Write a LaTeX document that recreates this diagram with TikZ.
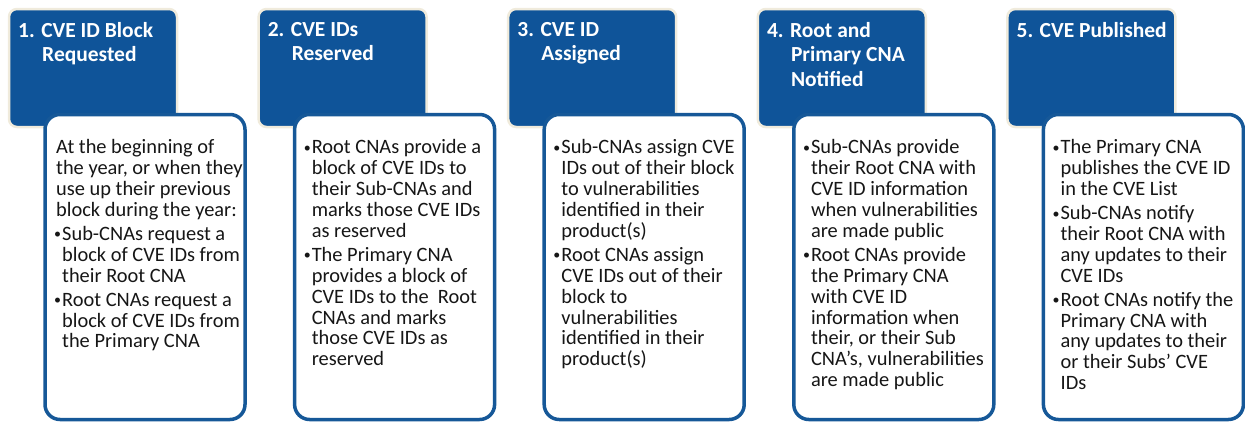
\documentclass[tikz,border=0pt]{standalone}
\usepackage{fontspec}
\setmainfont{Carlito}
\usetikzlibrary{positioning}

\definecolor{cvehead}{RGB}{15,84,153}
\definecolor{cveline}{RGB}{22,88,152}
\definecolor{cvecream}{RGB}{240,235,220}
\definecolor{cvetext}{RGB}{22,22,22}

% bullet and continuation indent
\newcommand{\bul}{\makebox[8pt][l]{\raisebox{1.5pt}{\fontsize{14}{14}\selectfont\textbullet}}}
\newcommand{\ind}{\hspace*{8pt}}
\newcommand{\hng}{\hspace*{24pt}}

\tikzset{
  stephead/.style={draw=cvecream, line width=2.5pt, fill=cvehead, rounded corners=8pt,
    minimum width=168pt, minimum height=118pt, anchor=north west, outer sep=0pt, inner sep=0pt},
  stepbody/.style={draw=cveline, line width=3.5pt, fill=white, rounded corners=15pt,
    minimum width=200pt, minimum height=305pt, anchor=north west, outer sep=0pt, inner sep=0pt},
  headlabel/.style={anchor=north west, inner sep=0pt, align=left, text=white,
    font=\fontsize{21.5}{24.5}\selectfont\bfseries, xshift=9pt, yshift=-13pt},
  bodylabel/.style={anchor=north west, inner sep=0pt, align=left, text=cvetext,
    font=\fontsize{20.4}{20.9}\selectfont, xshift=9pt, yshift=-25pt}
}

\begin{document}
\begin{tikzpicture}[x=1pt, y=-1pt]
\useasboundingbox (0,0) rectangle (1245,423);

% headers
\node[stephead] (hd1) at (9,9) {};
\node[stephead] (hd2) at (258.6,9) {};
\node[stephead] (hd3) at (508.2,9) {};
\node[stephead] (hd4) at (757.8,9) {};
\node[stephead] (hd5) at (1007.4,9) {};

\node[headlabel] (hl1) at (hd1.north west) {1. CVE ID Block\\\hng Requested};
\node[headlabel] (hl2) at (hd2.north west) {2. CVE IDs\\\hng Reserved};
\node[headlabel] (hl3) at (hd3.north west) {3. CVE ID\\\hng Assigned};
\node[headlabel] (hl4) at (hd4.north west) {4. Root and\\\hng Primary CNA\\\hng Notified};
\node[headlabel] (hl5) at (hd5.north west) {5. CVE Published};

% text boxes
\node[stepbody] (bx1) at (45,114.5) {};
\node[stepbody] (bx2) at (294.6,114.5) {};
\node[stepbody] (bx3) at (544.2,114.5) {};
\node[stepbody] (bx4) at (793.8,114.5) {};
\node[stepbody] (bx5) at (1043.4,114.5) {};

\node[bodylabel] (tx1) at (bx1.north west) {%
  \hspace*{2pt}At the beginning of\\
  \hspace*{2pt}the year, or when they\\
  \hspace*{2pt}use up their previous\\
  \hspace*{2pt}block during the year:\\[3pt]
  \bul Sub-CNAs request a\\
  \ind block of CVE IDs from\\
  \ind their Root CNA\\[3pt]
  \bul Root CNAs request a\\
  \ind block of CVE IDs from\\
  \ind the Primary CNA};

\node[bodylabel] (tx2) at (bx2.north west) {%
  \bul Root CNAs provide a\\
  \ind block of CVE IDs to\\
  \ind their Sub-CNAs and\\
  \ind marks those CVE IDs\\
  \ind as reserved\\[3pt]
  \bul The Primary CNA\\
  \ind provides a block of\\
  \ind CVE IDs to the\ \ Root\\
  \ind CNAs and marks\\
  \ind those CVE IDs as\\
  \ind reserved};

\node[bodylabel] (tx3) at (bx3.north west) {%
  \bul Sub-CNAs assign CVE\\
  \ind IDs out of their block\\
  \ind to vulnerabilities\\
  \ind identified in their\\
  \ind product(s)\\[3pt]
  \bul Root CNAs assign\\
  \ind CVE IDs out of their\\
  \ind block to\\
  \ind vulnerabilities\\
  \ind identified in their\\
  \ind product(s)};

\node[bodylabel] (tx4) at (bx4.north west) {%
  \bul Sub-CNAs provide\\
  \ind their Root CNA with\\
  \ind CVE ID information\\
  \ind when vulnerabilities\\
  \ind are made public\\[3pt]
  \bul Root CNAs provide\\
  \ind the Primary CNA\\
  \ind with CVE ID\\
  \ind information when\\
  \ind their, or their Sub\\
  \ind CNA’s, vulnerabilities\\
  \ind are made public};

\node[bodylabel] (tx5) at (bx5.north west) {%
  \bul The Primary CNA\\
  \ind publishes the CVE ID\\
  \ind in the CVE List\\[3pt]
  \bul Sub-CNAs notify\\
  \ind their Root CNA with\\
  \ind any updates to their\\
  \ind CVE IDs\\[3pt]
  \bul Root CNAs notify the\\
  \ind Primary CNA with\\
  \ind any updates to their\\
  \ind or their Subs’ CVE\\
  \ind IDs};
\end{tikzpicture}
\end{document}
